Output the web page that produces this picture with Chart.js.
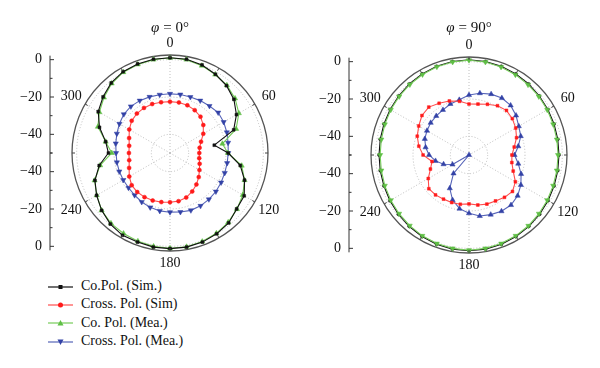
<!DOCTYPE html>
<html lang="en">
<head>
<meta charset="UTF-8">
<title>Radiation patterns</title>
<script src="https://cdn.jsdelivr.net/npm/chart.js"></script>
<style>
  body { margin: 0; background: #fff; font-family: "Liberation Serif", serif; }
  #wrap { position: relative; width: 600px; height: 368px; }
  canvas { position: absolute; top: 0; }
  #c1 { left: 0; }
  #c2 { left: 300px; }
  #legend { position: absolute; left: 48px; top: 277px; font-size: 14px; color: #111; }
  #legend div { height: 18.3px; line-height: 18.3px; white-space: nowrap; }
  #legend svg { vertical-align: middle; margin-right: 8px; }
</style>
</head>
<body>
<div id="wrap">
  <canvas id="c1" width="300" height="270"></canvas>
  <canvas id="c2" width="300" height="270"></canvas>
  <div id="legend">
    <div><svg width="25" height="10"><line x1="0" y1="5" x2="25" y2="5" stroke="#111" stroke-width="1.2"/><rect x="10.5" y="3" width="4" height="4" fill="#111"/></svg>Co.Pol. (Sim.)</div>
    <div><svg width="25" height="10"><line x1="0" y1="5" x2="25" y2="5" stroke="#ff4d4d" stroke-width="1.2"/><circle cx="12.5" cy="5" r="2.5" fill="#ff1a1a"/></svg>Cross. Pol. (Sim)</div>
    <div><svg width="25" height="10"><line x1="0" y1="5" x2="25" y2="5" stroke="#76cc5a" stroke-width="1.2"/><polygon points="12.5,2 15.5,7.5 9.5,7.5" fill="#5fbf45"/></svg>Co. Pol. (Mea.)</div>
    <div><svg width="25" height="10"><line x1="0" y1="5" x2="25" y2="5" stroke="#5563b8" stroke-width="1.2"/><polygon points="9.5,2.5 15.5,2.5 12.5,8" fill="#3342a6"/></svg>Cross. Pol. (Mea.)</div>
  </div>
</div>

<script>
// angles (deg) of the samples
const angles = [0, 10, 20, 30, 40, 50, 60, 70, 80, 90, 100, 110, 120, 130, 140, 150, 160, 170,
                180, 190, 200, 210, 220, 230, 240, 250, 260, 270, 280, 290, 300, 310, 320, 330, 340, 350];
const angleTickLabels = [0, 60, 120, 180, 240, 300];
const gridValues = [-50, -40, -20, 0, 2.5];   // last one = outer frame
const axisLabels = [0, -20, -40];
const axisMinor = [-10, -30, -50];

// phi = 0 deg (dB)
const coSim0 = [1.0, 1.0, 0.2, -1.3, -2.9, -5.3, -8.9, -13.7, -25.9, -18.8, -11.8, -7.5, -4.1, -3.4, -1.1, 0, 0.8, 1.2,
                1.2, 1.2, 0.8, 0.9, -0.3, -2.2, -4.6, -7.2, -11.5, -17.0, -15.0, -9.8, -5.6, -3.2, -1.0, 0.3, 0.8, 1.0];
const crossSim0 = [-22.5, -22.5, -22.8, -23.5, -24.6, -26.7, -29.4, -32.3, -33.9, -34.3, -34.1, -33.1, -31.8, -29.9, -28.0, -26.2, -24.6, -23.8,
                   -23.6, -23.3, -22.9, -22.7, -22.7, -23.2, -24.8, -26.7, -27.8, -28.0, -27.8, -26.7, -24.8, -23.2, -22.4, -22.1, -22.1, -22.4];
const coMea0 = [1.0, 0.8, -0.2, -1.5, -2.6, -4.5, -7.4, -12.3, -21.5, -19.0, -11.0, -7.5, -5.0, -3.2, -1.5, -0.3, 0.5, 1.0,
                1.0, 0.8, 0.3, -0.2, -0.8, -2.2, -4.7, -7.0, -12.0, -18.8, -15.0, -8.9, -6.3, -3.8, -1.4, 0, 0.5, 0.8];
const crossMea0 = [-18.3, -18.2, -18.1, -17.6, -17.1, -16.3, -16.8, -17.6, -18.4, -18.8, -18.9, -18.8, -18.4, -17.9, -17.6, -17.3, -17.3, -17.9,
                   -18.3, -18.5, -19.0, -19.7, -20.5, -21.0, -21.1, -21.1, -21.1, -21.1, -20.5, -19.7, -18.7, -17.7, -17.4, -17.6, -18.0, -18.3];

// phi = 90 deg (dB)
const coSim90 = [1.0, 0.9, 0.6, 0.2, -0.3, -0.8, -1.2, -1.5, -1.7, -1.8, -1.7, -1.5, -1.1, -0.6, -0.1, 0.4, 0.9, 1.2,
                 1.3, 1.2, 0.9, 0.4, -0.1, -0.6, -1.1, -1.5, -1.7, -1.8, -1.7, -1.5, -1.2, -0.8, -0.3, 0.2, 0.6, 0.9];
const crossSim90 = [-22.7, -22.3, -21.1, -19.5, -18.8, -19.7, -21.1, -22.9, -25.4, -27.0, -26.7, -24.8, -21.3, -19.6, -20.4, -21.6, -22.0, -22.8,
                    -23.8, -23.2, -22.9, -22.7, -22.1, -21.9, -24.8, -28.0, -29.9, -25.4, -22.7, -20.5, -18.9, -17.1, -16.5, -18.0, -19.2, -20.8];
const coMea90 = [0.8, 0.6, 0.2, -0.3, -0.8, -1.2, -1.6, -2.0, -2.2, -2.3, -2.2, -2.0, -1.6, -1.1, -0.5, 0.0, 0.5, 0.8,
                 1.0, 0.8, 0.5, 0.0, -0.6, -1.1, -1.6, -2.0, -2.3, -2.4, -2.3, -2.0, -1.6, -1.2, -0.7, -0.2, 0.3, 0.6];
const crossMea90 = [-17.9, -16.4, -15.3, -14.8, -15.3, -17.1, -19.2, -20.5, -23.2, -25.6, -23.2, -20.3, -17.9, -16.0, -15.0, -15.2, -16.0, -16.8,
                    -18.8, -20.8, -24.3, -29.4, -37.1, -50, -39.8, -35.5, -31.8, -28.6, -26.4, -24.8, -24.0, -23.2, -22.7, -22.1, -20.9, -20.0];

const FONT = '"Liberation Serif", "DejaVu Serif", serif';

// frame ticks, angle labels, left radial axis and title
const polarDeco = {
    id: 'polarDeco',
    afterDraw(chart, args, opts) {
        const r = chart.scales.r;
        const ctx = chart.ctx;
        const xc = r.xCenter, yc = r.yCenter, R = r.drawingArea;
        ctx.save();

        // small ticks on the outer circle every 30 deg
        ctx.strokeStyle = '#444';
        ctx.lineWidth = 1;
        angles.forEach((a, i) => {
            if (a % 30 !== 0) return;
            const p1 = r.getPointPosition(i, R);
            const p2 = r.getPointPosition(i, R - 3);
            ctx.beginPath();
            ctx.moveTo(p1.x, p1.y);
            ctx.lineTo(p2.x, p2.y);
            ctx.stroke();
        });

        // angle labels
        ctx.fillStyle = '#111';
        ctx.font = '14px ' + FONT;
        ctx.textAlign = 'center';
        ctx.textBaseline = 'middle';
        angles.forEach((a, i) => {
            if (!angleTickLabels.includes(a)) return;
            const d = (a === 0 || a === 180) ? R + 12 : R + 16;
            const p = r.getPointPosition(i, d);
            ctx.fillText(String(a), p.x, p.y);
        });

        // left radial axis (mirrored above and below the centre)
        const ax = xc - 120;
        const top = yc - r.getDistanceFromCenterForValue(0) - 4;
        const bot = yc + r.getDistanceFromCenterForValue(0) + 4;
        ctx.strokeStyle = '#333';
        ctx.lineWidth = 1;
        ctx.beginPath();
        ctx.moveTo(ax, top);
        ctx.lineTo(ax, bot);
        ctx.stroke();
        ctx.textAlign = 'right';
        axisLabels.forEach(v => {
            const d = r.getDistanceFromCenterForValue(v);
            [yc - d, yc + d].forEach(y => {
                ctx.beginPath();
                ctx.moveTo(ax, y);
                ctx.lineTo(ax + 4, y);
                ctx.stroke();
                ctx.fillText(v === 0 ? '0' : '\u2212' + Math.abs(v), ax - 8, y);
            });
        });
        axisMinor.forEach(v => {
            const d = r.getDistanceFromCenterForValue(v);
            [yc - d, yc + d].forEach(y => {
                ctx.beginPath();
                ctx.moveTo(ax, y);
                ctx.lineTo(ax + 2.5, y);
                ctx.stroke();
            });
        });

        // title: italic phi + upright rest
        ctx.textBaseline = 'alphabetic';
        ctx.textAlign = 'left';
        const phi = '\u03C6';
        const rest = ' = ' + opts.title;
        ctx.font = 'italic 15px ' + FONT;
        const w1 = ctx.measureText(phi).width;
        ctx.font = '15px ' + FONT;
        const w2 = ctx.measureText(rest).width;
        const x0 = xc - (w1 + w2) / 2;
        ctx.font = 'italic 15px ' + FONT;
        ctx.fillText(phi, x0, 32);
        ctx.font = '15px ' + FONT;
        ctx.fillText(rest, x0 + w1, 32);

        ctx.restore();
    }
};

function series(label, data, line, fillc, style, radius, rot) {
    return {
        label: label,
        data: data,
        borderColor: line,
        borderWidth: 1.1,
        backgroundColor: fillc,
        fill: false,
        pointStyle: style,
        pointRadius: radius,
        pointRotation: rot || 0,
        pointBackgroundColor: fillc,
        pointBorderColor: fillc,
        pointBorderWidth: 0.5
    };
}

function makeChart(id, datasets, title, padding) {
    return new Chart(document.getElementById(id), {
        type: 'radar',
        data: { labels: angles, datasets: datasets },
        options: {
            responsive: false,
            animation: false,
            layout: { padding: padding },
            elements: { line: { tension: 0 } },
            plugins: {
                legend: { display: false },
                tooltip: { enabled: false },
                polarDeco: { title: title }
            },
            scales: {
                r: {
                    min: -50,
                    max: 2.5,
                    afterBuildTicks: s => { s.ticks = gridValues.map(v => ({ value: v })); },
                    ticks: { display: false },
                    pointLabels: { display: false },
                    grid: {
                        circular: true,
                        color: c => (c.tick && c.tick.value > 0) ? '#555' : '#b8b8b8',
                        lineWidth: c => (c.tick && c.tick.value > 0) ? 1.3 : 0.9
                    },
                    border: { dash: c => (c.tick && c.tick.value > 0) ? [] : [1, 2] },
                    angleLines: {
                        color: c => c.index % 6 === 0 ? '#b8b8b8' : 'rgba(0,0,0,0)',
                        lineWidth: 0.9,
                        borderDash: [1, 2]
                    }
                }
            }
        },
        plugins: [polarDeco]
    });
}

makeChart('c1', [
    series('Co.Pol. (Sim.)', coSim0, '#111', '#111', 'rect', 2),
    series('Co. Pol. (Mea.)', coMea0, '#76cc5a', '#5fbf45', 'triangle', 3),
    series('Cross. Pol. (Sim)', crossSim0, '#ff4d4d', '#ff1a1a', 'circle', 2),
    series('Cross. Pol. (Mea.)', crossMea0, '#5563b8', '#3342a6', 'triangle', 3, 180)
], '0\u00B0', { left: 72, right: 32, top: 55, bottom: 19 });

makeChart('c2', [
    series('Co. Pol. (Mea.)', coMea90, '#76cc5a', '#5fbf45', 'triangle', 3, 180),
    series('Co.Pol. (Sim.)', coSim90, '#111', '#111', 'circle', 1.5),
    series('Cross. Pol. (Sim)', crossSim90, '#ff4d4d', '#ff1a1a', 'rect', 2),
    series('Cross. Pol. (Mea.)', crossMea90, '#5563b8', '#3342a6', 'triangle', 3)
], '90\u00B0', { left: 71, right: 33, top: 57, bottom: 17 });
</script>
</body>
</html>
